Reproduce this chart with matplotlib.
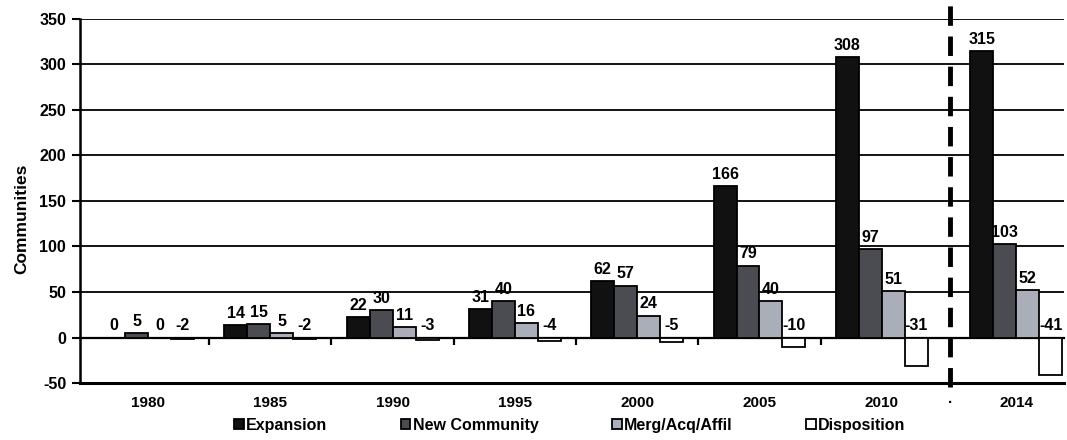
import matplotlib
matplotlib.use("Agg")
import matplotlib.pyplot as plt
import numpy as np

plt.rcParams['font.family'] = ['Liberation Sans', 'DejaVu Sans']
plt.rcParams['font.weight'] = 'bold'
plt.rcParams['axes.unicode_minus'] = False

years = ['1980', '1985', '1990', '1995', '2000', '2005', '2010', '2014']
expansion = [0, 14, 22, 31, 62, 166, 308, 315]
new_community = [5, 15, 30, 40, 57, 79, 97, 103]
merg_acq_affil = [0, 5, 11, 16, 24, 40, 51, 52]
disposition = [-2, -2, -3, -4, -5, -10, -31, -41]

series_names = ['Expansion', 'New Community', 'Merg/Acq/Affil', 'Disposition']
series_values = [expansion, new_community, merg_acq_affil, disposition]
series_colors = ['#111111', '#4b4b52', '#aaaeb8', '#ffffff']

# 2014 sits a little apart, after a dashed separator
x_pos = np.array([0, 1, 2, 3, 4, 5, 6, 7.1])
sep_x = 6.56

fig = plt.figure(figsize=(10.67, 4.4), dpi=100)
ax = fig.add_axes([0.075, 0.1295, 0.9222, 0.8275])

bar_w = 0.188
offsets = (np.arange(4) - 1.5) * bar_w
for name, vals, col, off in zip(series_names, series_values, series_colors, offsets):
    ax.bar(x_pos + off, vals, width=bar_w, color=col, edgecolor='black',
           linewidth=1.3, label=name, zorder=3)
    for xi, v in zip(x_pos + off, vals):
        y = max(v, 0)
        ax.annotate(str(v), (xi, y), xytext=(0, 3), textcoords='offset points',
                    ha='center', va='bottom', fontsize=11.5, fontweight='bold',
                    zorder=5)

ax.set_xlim(-0.556, 7.49)
ax.set_ylim(-50, 350)
ax.set_yticks(np.arange(-50, 351, 50))
ax.yaxis.grid(True, color='black', linewidth=1.3, zorder=0)
ax.set_axisbelow(True)

for s in ['top', 'right']:
    ax.spines[s].set_visible(False)
ax.spines['left'].set_linewidth(1.8)
ax.spines['bottom'].set_linewidth(2.2)

ax.tick_params(axis='y', direction='out', length=6, width=1.5, labelsize=11.5, pad=4)
ax.set_xticks(list(x_pos) + [sep_x])
ax.set_xticklabels(years + ['·'])
ax.tick_params(axis='x', length=0, labelsize=11, pad=9)
for lab in ax.get_yticklabels() + ax.get_xticklabels():
    lab.set_fontweight('bold')

ax.set_ylabel('Communities', fontsize=12.5, fontweight='bold')
ax.yaxis.set_label_coords(-0.052, 0.45)

# zero line with small ticks between categories
zero_frac = 50 / 400
sec = ax.secondary_xaxis(zero_frac)
sec.set_xticks(np.arange(0.5, 6, 1.0))
sec.tick_params(direction='out', length=5, width=1.6, labelbottom=False,
                labeltop=False, bottom=True, top=False)
sec.spines['bottom'].set_linewidth(1.6)
sec.spines['top'].set_linewidth(1.6)

# dashed separator before 2014
ax.plot([sep_x, sep_x], [-0.01, 1.04], transform=ax.get_xaxis_transform(),
        color='black', linewidth=3.5, linestyle=(0, (4, 2.2)), clip_on=False,
        zorder=6)

leg = fig.legend(loc='center', bbox_to_anchor=(0.534, 0.034), ncol=4,
                 frameon=False, fontsize=11.5, handlelength=0.6, handleheight=0.6,
                 handletextpad=0.15, columnspacing=4.6)
for t in leg.get_texts():
    t.set_fontweight('bold')

fig.savefig('out.png', dpi=100)
